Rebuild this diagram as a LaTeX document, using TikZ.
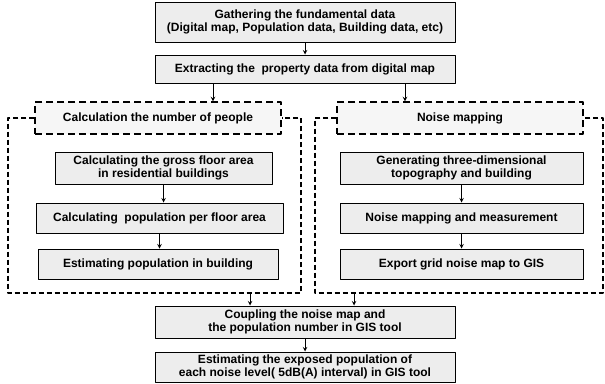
\documentclass[tikz,border=0pt]{standalone}
\usepackage{fontspec}
\setmainfont{Liberation Sans}
\begin{document}
\begin{tikzpicture}[x=1pt, y=-1pt, font=\fontsize{12}{12.5}\selectfont\bfseries, line join=round, >=stealth,
	box/.style={draw, line width=1pt, fill=gray!14, align=center, inner sep=1pt},
	head/.style={draw, line width=1.4pt, dash pattern=on 7pt off 4pt, fill=gray!7, minimum width=246, minimum height=32},
	panel/.style={line width=1.2pt, dash pattern=on 5pt off 3pt},
	flow/.style={->, line width=1pt}]
	\useasboundingbox (0,0) rectangle (605,383);
	\path
	(305,22) node[box, minimum width=300, minimum height=40] (gather)
	{Gathering the fundamental data\\(Digital map, Population data, Building data, etc)}
	(305,69) node[box, minimum width=300, minimum height=28] (extract)
	{Extracting the\ \ property data from digital map}
	(158,118) node[head] (hdl) {Calculation the number of people}
	(460,118) node[head] (hdr) {Noise mapping}
	(163.5,168) node[box, minimum width=217, minimum height=32] (calcA)
	{Calculating the gross floor area\\in residential buildings}
	(159.5,218) node[box, minimum width=247, minimum height=30] (calcB)
	{Calculating\ \ population per floor area}
	(158,264) node[box, minimum width=240, minimum height=30] (calcC)
	{Estimating population in building}
	(461.5,168) node[box, minimum width=243, minimum height=32] (noiseA)
	{Generating three-dimensional\\topography and building}
	(461.5,218) node[box, minimum width=243, minimum height=30] (noiseB)
	{Noise mapping and measurement}
	(461.5,264) node[box, minimum width=243, minimum height=30] (noiseC)
	{Export grid noise map to GIS}
	(305,322) node[box, minimum width=300, minimum height=32] (couple)
	{Coupling the noise map and\\the population number in GIS tool}
	(305,367) node[box, minimum width=300, minimum height=30] (result)
	{Estimating the exposed population of\\each noise level( 5dB(A) interval) in GIS tool};
	\path
	(8,293) coordinate (lsw) (301,293) coordinate (lse)
	(315,293) coordinate (rsw) (603,293) coordinate (rse)
	(213,0) coordinate (tl) (405,0) coordinate (tr)
	(250,293) coordinate (bl) (354,293) coordinate (br);
	% dashed panels
	\draw[panel] (hdl.west) -| (lsw) -- (lse) |- (hdl.east);
	\draw[panel] (hdr.west) -| (rsw) -- (rse) |- (hdr.east);
	% arrows
	\foreach \a/\b in {gather/extract, calcA/calcB, calcB/calcC, noiseA/noiseB, noiseB/noiseC, couple/result}
	\draw[flow] (\a.south) -- (\a.south |- \b.north);
	\draw[flow] (tl |- extract.south) -- (tl |- hdl.north);
	\draw[flow] (tr |- extract.south) -- (tr |- hdr.north);
	\draw[flow] (bl) -- (bl |- couple.north);
	\draw[flow] (br) -- (br |- couple.north);
	
\end{tikzpicture}
\end{document}
